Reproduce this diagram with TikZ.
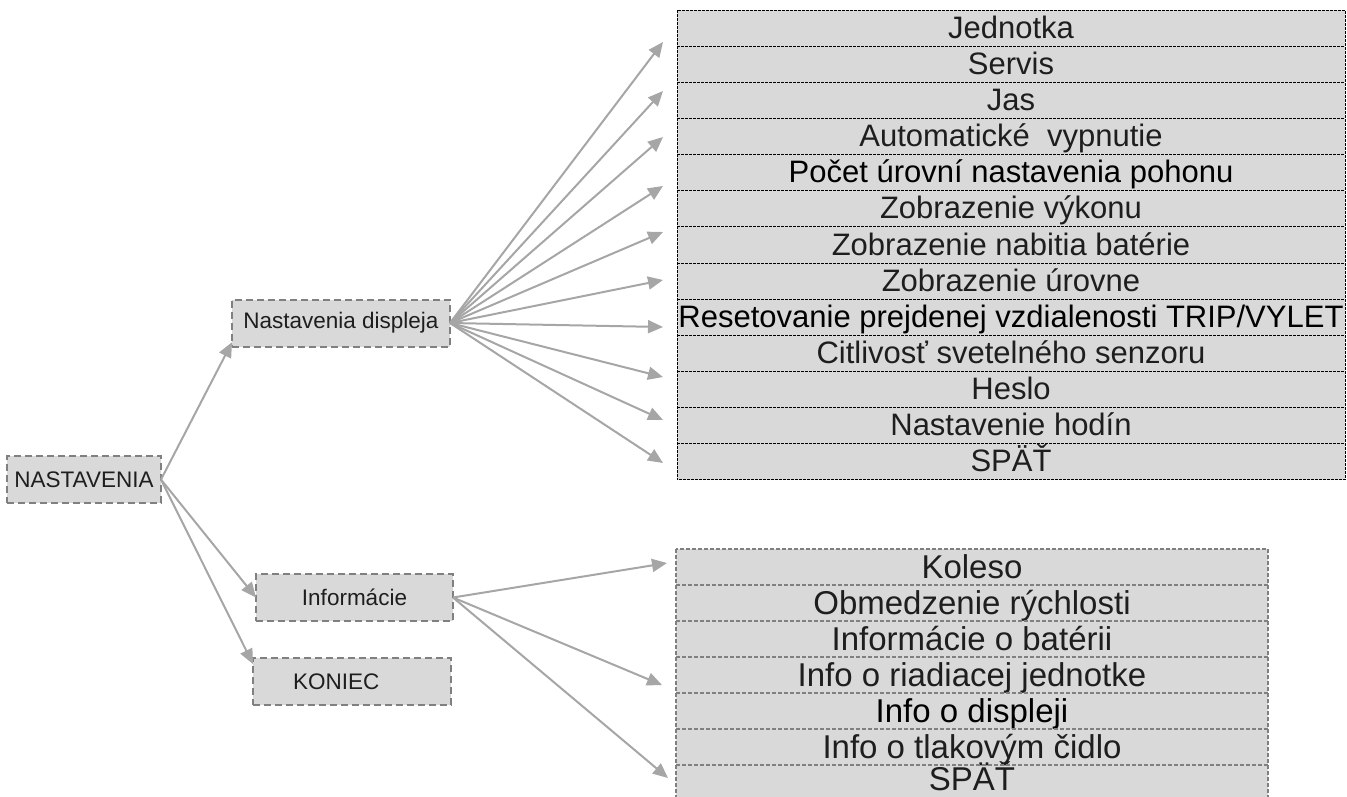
\documentclass[tikz,border=0pt]{standalone}
\usepackage{fontspec}
\setmainfont{Liberation Sans}
\usetikzlibrary{arrows.meta,positioning}
\definecolor{boxfill}{HTML}{D9D9D9}
\definecolor{boxedge}{HTML}{808080}
\definecolor{arrgray}{HTML}{A6A6A6}
\definecolor{txt}{HTML}{1E1E1E}

\begin{document}
\begin{tikzpicture}[x=1pt, y=-1pt,
    menu/.style={draw=boxedge, fill=boxfill, line width=2pt, dash pattern=on 7pt off 4pt, minimum height=47pt, inner sep=0pt, outer sep=0pt, font=\fontsize{22.5}{25}\selectfont, text=txt},
    row/.style={fill=boxfill, minimum width=668pt, minimum height=36.15pt, inner sep=0pt, outer sep=0pt, text height=27pt, text depth=7pt, font=\fontsize{31}{33}\selectfont, text=txt},
    inforow/.style={row, minimum width=592pt, minimum height=36pt, text height=28pt, text depth=6pt, font=\fontsize{33}{35}\selectfont},
    rowedge/.style={draw=black, line width=1pt, dash pattern=on 2.5pt off 1.5pt},
    infoedge/.style={draw=boxedge, line width=1.2pt, dash pattern=on 4pt off 2pt},
    arrow/.style={-{Triangle[length=15pt, width=13pt]}, draw=arrgray, line width=2pt}
]
    \useasboundingbox (0,0) rectangle (1347,796);

    \node[menu, minimum width=154pt] (nast) at (84,479.5) {NASTAVENIA};
    \node[menu, minimum width=218pt] (disp) at (341,323) {Nastavenia displeja};
    \node[menu, minimum width=197pt] (inf) at (354.5,597.5) {Informácie};
    \node[menu, minimum width=198pt, text width=118pt, inner xsep=40pt, align=left] (kon) at (352,681.5) {KONIEC};

    % displej submenu
    \node[row] (jed) at (1011,28.1) {Jednotka};
    \node[row, below=0pt of jed] (ser) {Servis};
    \node[row, below=0pt of ser] (jas) {Jas};
    \node[row, below=0pt of jas] (auto) {Automatické\ \ vypnutie};
    \node[row, below=0pt of auto, text=black] (poc) {Počet úrovní nastavenia pohonu};
    \node[row, below=0pt of poc] (vyk) {Zobrazenie výkonu};
    \node[row, below=0pt of vyk] (bat) {Zobrazenie nabitia batérie};
    \node[row, below=0pt of bat] (uro) {Zobrazenie úrovne};
    \node[row, below=0pt of uro, text=black] (res) {Resetovanie prejdenej vzdialenosti TRIP/VYLET};
    \node[row, below=0pt of res] (cit) {Citlivosť svetelného senzoru};
    \node[row, below=0pt of cit] (hes) {Heslo};
    \node[row, below=0pt of hes] (hod) {Nastavenie hodín};
    \node[row, below=0pt of hod] (spat) {SPÄŤ};
    \draw[rowedge] (jed.north west) rectangle (spat.south east);
    \foreach \r in {jed,ser,jas,auto,poc,vyk,bat,uro,res,cit,hes,hod}
        \draw[rowedge] (\r.south west) -- (\r.south east);

    % info submenu
    \node[inforow] (kol) at (972,567) {Koleso};
    \node[inforow, below=0pt of kol] (obm) {Obmedzenie rýchlosti};
    \node[inforow, below=0pt of obm] (ibat) {Informácie o batérii};
    \node[inforow, below=0pt of ibat] (irj) {Info o riadiacej jednotke};
    \node[inforow, below=0pt of irj, text=black] (idis) {Info o displeji};
    \node[inforow, below=0pt of idis] (itl) {Info o tlakovým čidlo};
    \node[inforow, below=0pt of itl, text height=24pt, text depth=10pt] (ispat) {SPÄŤ};
    \draw[infoedge] (kol.north west) rectangle (ispat.south east);
    \foreach \r in {kol,obm,ibat,irj,idis,itl}
        \draw[infoedge] (\r.south west) -- (\r.south east);

    \coordinate (d1) at (663,42);
    \coordinate (d2) at (663,91);
    \coordinate (d3) at (663,137);
    \coordinate (d4) at (663,186);
    \coordinate (d5) at (663,232);
    \coordinate (d6) at (663,280);
    \coordinate (d7) at (663,327);
    \coordinate (d8) at (663,377);
    \coordinate (d9) at (663,420);
    \coordinate (d10) at (663,463);
    \coordinate (i1) at (667,563);
    \coordinate (i2) at (662,685);
    \coordinate (i3) at (668,778);

    \draw[arrow] (nast.east) -- (disp.-170);
    \draw[arrow] (nast.east) -- (inf.west);
    \draw[arrow] (nast.east) -- (kon.170);

    \draw[arrow] (disp.east) -- (d1);
    \draw[arrow] (disp.east) -- (d2);
    \draw[arrow] (disp.east) -- (d3);
    \draw[arrow] (disp.east) -- (d4);
    \draw[arrow] (disp.east) -- (d5);
    \draw[arrow] (disp.east) -- (d6);
    \draw[arrow] (disp.east) -- (d7);
    \draw[arrow] (disp.east) -- (d8);
    \draw[arrow] (disp.east) -- (d9);
    \draw[arrow] (disp.east) -- (d10);

    \draw[arrow] (inf.east) -- (i1);
    \draw[arrow] (inf.east) -- (i2);
    \draw[arrow] (inf.east) -- (i3);
\end{tikzpicture}
\end{document}
